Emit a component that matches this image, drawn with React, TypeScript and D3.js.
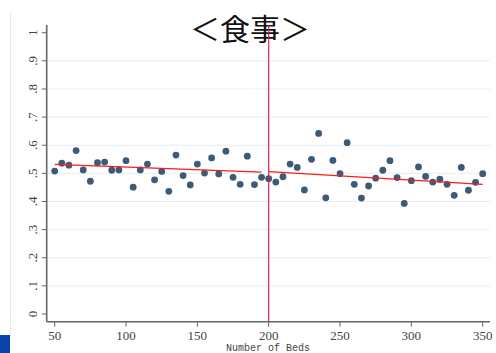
import React from "react";
import * as d3 from "d3";

const beds = [50,55,60,65,70,75,80,85,90,95,100,105,110,115,120,125,130,135,140,145,150,155,160,165,170,175,180,185,190,195,200,205,210,215,220,225,230,235,240,245,250,255,260,265,270,275,280,285,290,295,300,305,310,315,320,325,330,335,340,345,350];
const share = [0.508,0.536,0.529,0.581,0.512,0.472,0.538,0.540,0.511,0.512,0.545,0.451,0.512,0.533,0.477,0.507,0.436,0.565,0.492,0.459,0.533,0.501,0.555,0.498,0.579,0.486,0.461,0.561,0.460,0.486,0.481,0.469,0.488,0.533,0.521,0.441,0.550,0.642,0.413,0.546,0.499,0.609,0.461,0.412,0.455,0.483,0.511,0.545,0.485,0.393,0.474,0.523,0.489,0.469,0.479,0.461,0.422,0.521,0.440,0.468,0.499];
const fitLeftX = [50, 195];
const fitLeftY = [0.532, 0.504];
const fitRightX = [200, 350];
const fitRightY = [0.506, 0.461];
const cutoff = 200;
const xTicks = [50, 100, 150, 200, 250, 300, 350];
const yTicks = [0, 0.1, 0.2, 0.3, 0.4, 0.5, 0.6, 0.7, 0.8, 0.9, 1];
const yTickLabels = ["0", ".1", ".2", ".3", ".4", ".5", ".6", ".7", ".8", ".9", "1"];
const title = "＜食事＞";
const xTitle = "Number of Beds";

export default function App() {
  const W = 496, H = 353;
  const x = d3.scaleLinear().domain([50, 350]).range([54.7, 482.7]);
  const y = d3.scaleLinear().domain([0, 1]).range([314, 32.7]);
  const plotLeft = 46.7, plotRight = 490, plotTop = 25, plotBottom = 321.7;
  const line = d3.line<[number, number]>().x(d => x(d[0])).y(d => y(d[1]));
  const leftPts: [number, number][] = fitLeftX.map((v, i) => [v, fitLeftY[i]]);
  const rightPts: [number, number][] = fitRightX.map((v, i) => [v, fitRightY[i]]);
  return (
    <div style={{ position: "absolute", left: 0, top: 0 }}>
      <svg width={W} height={H} style={{ display: "block" }}>
        <rect x={0} y={0} width={W} height={H} fill="#fff" />
        <line x1={10.5} x2={10.5} y1={12} y2={335} stroke="#ececec" strokeWidth={1} />
        <rect x={0} y={335} width={10} height={18} fill="#0a44a8" />
        {yTicks.filter(t => t > 0 && t < 1).map(t => (
          <line key={"g" + t} x1={plotLeft} x2={plotRight} y1={y(t)} y2={y(t)} stroke="#e6eff0" strokeWidth={1} />
        ))}
        <line x1={plotLeft} x2={plotLeft} y1={plotTop} y2={plotBottom} stroke="#666" strokeWidth={1.6} />
        <line x1={plotLeft} x2={plotRight} y1={plotBottom} y2={plotBottom} stroke="#666" strokeWidth={1.6} />
        {yTicks.map((t, i) => (
          <g key={"yt" + t}>
            <line x1={plotLeft - 5} x2={plotLeft} y1={y(t)} y2={y(t)} stroke="#666" strokeWidth={1} />
            <text
              transform={`translate(37,${y(t)}) rotate(-90)`}
              textAnchor="middle"
              fontFamily="Liberation Serif"
              fontSize={13}
              fill="#444"
            >{yTickLabels[i]}</text>
          </g>
        ))}
        {xTicks.map(t => (
          <g key={"xt" + t}>
            <line x1={x(t)} x2={x(t)} y1={plotBottom} y2={plotBottom + 5} stroke="#666" strokeWidth={1} />
            <text x={x(t)} y={339.5} textAnchor="middle" fontFamily="Liberation Serif" fontSize={13} fill="#444">{t}</text>
          </g>
        ))}
        <text x={268} y={350.5} textAnchor="middle" fontFamily="Liberation Mono" fontSize={10} fill="#444">{xTitle}</text>
        {beds.map((b, i) => (
          <circle key={"p" + b} cx={x(b)} cy={y(share[i])} r={3.4} fill="#3b5b78" />
        ))}
        <path d={line(leftPts) || ""} stroke="#ff1a1a" strokeWidth={1.3} fill="none" />
        <path d={line(rightPts) || ""} stroke="#ff1a1a" strokeWidth={1.3} fill="none" />
        <text x={250} y={40} textAnchor="middle" fontFamily="Noto Sans CJK JP" fontSize={30} fill="#111">{title}</text>
        <line x1={x(cutoff)} x2={x(cutoff)} y1={plotTop} y2={plotBottom} stroke="#d8143c" strokeWidth={1.1} />
      </svg>
    </div>
  );
}
